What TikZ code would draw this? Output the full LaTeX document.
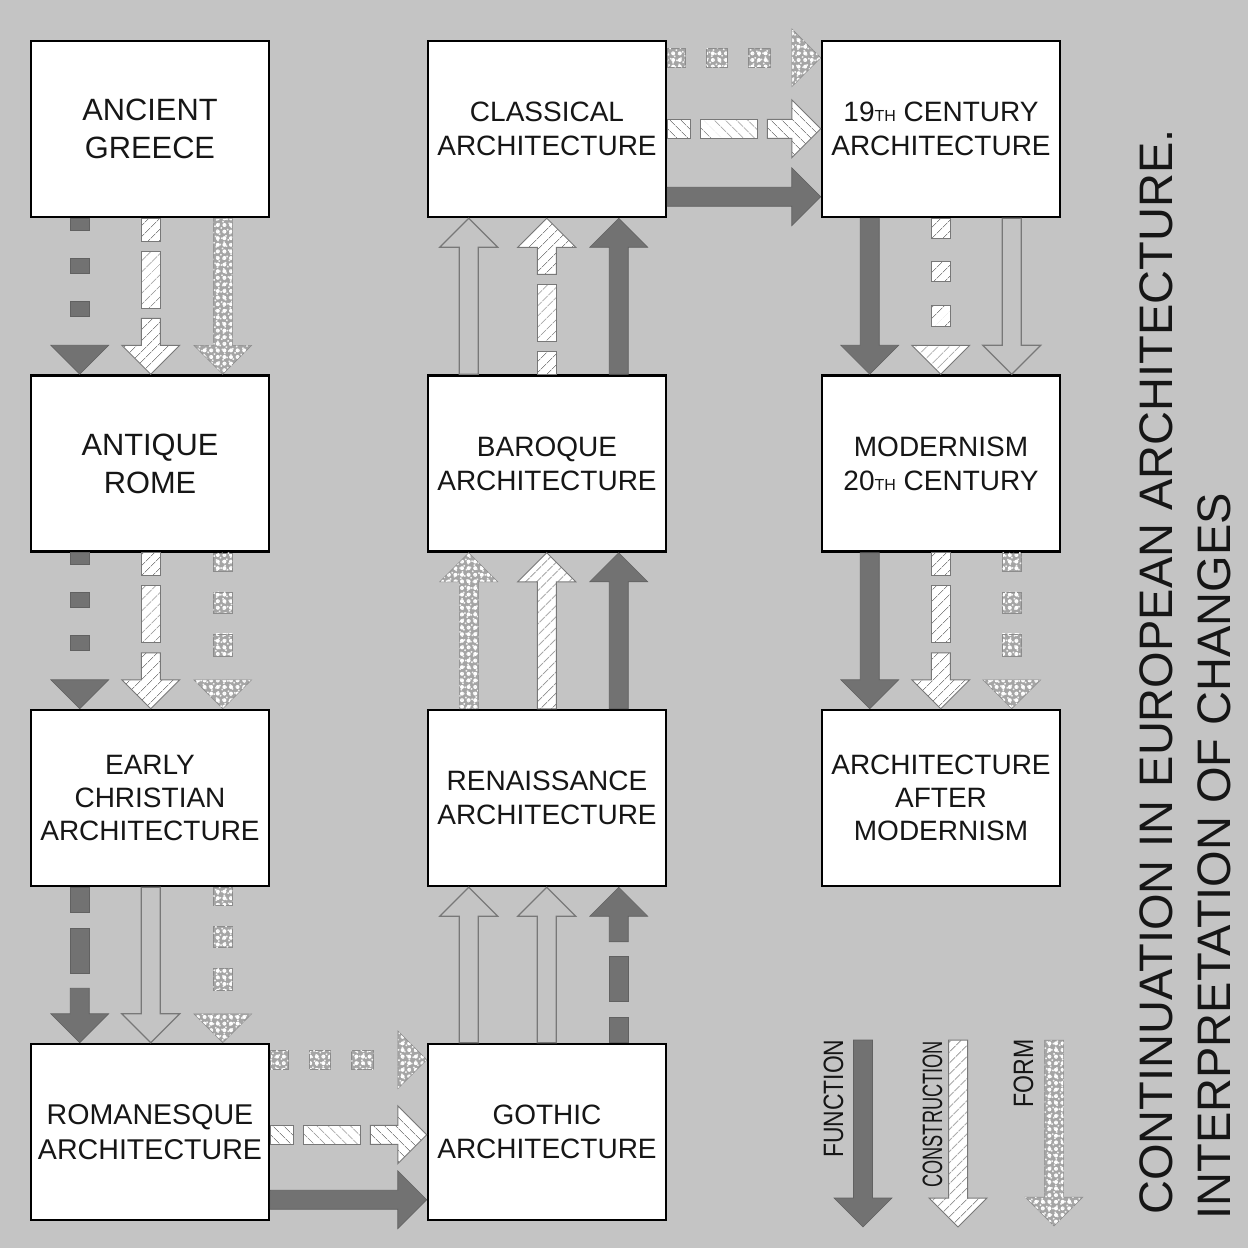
\documentclass[tikz,border=0pt]{standalone}
\usepackage{fontspec}
\setmainfont{Liberation Sans}
\usetikzlibrary{calc,patterns.meta}
\definecolor{bgc}{RGB}{196,196,196}
\definecolor{fcol}{RGB}{114,114,114}
\definecolor{ocol}{RGB}{120,120,120}
\definecolor{hcol}{RGB}{135,135,135}
\definecolor{stb}{RGB}{165,165,165}
\definecolor{txt}{RGB}{22,22,22}
\newcommand\arsw{9.5}
\newcommand\arhw{29}
\newcommand\arhk{29}
\newcommand\arhatang{-45}
\newcommand\getframe[2]{%
  \path let \p1=(#1), \p2=(#2) in \pgfextra{%
    \pgfmathsetmacro\artmpL{veclen(\x2-\x1,\y2-\y1)*2}%
    \pgfmathsetmacro\artmpA{atan2(\y2-\y1,\x2-\x1)}%
    \pgfmathsetmacro\artmpH{abs(\artmpA)>45 ? 45 : -45}%
    \global\let\arL\artmpL
    \global\let\arA\artmpA
    \global\let\arhatang\artmpH
    \xdef\arX{\x1}\xdef\arY{\y1}};}
\newcommand\arpiece[3]{\path[#1] (#2,-\arsw) rectangle (#3,\arsw);}
\newcommand\arhead[1]{\path[#1] ({\arL-\arhk},-\arhw) -- (\arL,0) -- ({\arL-\arhk},\arhw) -- cycle;}
\newcommand\artail[2]{\path[#1] (#2,-\arsw) -- ({\arL-\arhk},-\arsw) -- ({\arL-\arhk},-\arhw) -- (\arL,0) -- ({\arL-\arhk},\arhw) -- ({\arL-\arhk},\arsw) -- (#2,\arsw) -- cycle;}
\newcommand\arkindsolidF{\artail{fun}{0}}
\newcommand\arkindsolidC{\artail{hat}{0}}
\newcommand\arkindsolidS{\artail{sti}{0}}
\newcommand\arkindempty{\artail{emp}{0}}
\newcommand\arkinddotF{\arpiece{fun}{0}{12}\arpiece{fun}{40}{55}\arpiece{fun}{83}{98}\arhead{fun}}
\newcommand\arkinddotC{\arpiece{hat}{0}{20}\arpiece{hat}{43}{63}\arpiece{hat}{87}{108}\arhead{hat}}
\newcommand\arkinddotS{\arpiece{sti}{0}{18}\arpiece{sti}{39}{60}\arpiece{sti}{81}{103}\arhead{sti}}
\newcommand\arkindsegC{\arpiece{hat}{0}{23}\arpiece{hat}{33}{90}\artail{hat}{100}}
\newcommand\arkinddashF{\arpiece{fun}{0}{25}\arpiece{fun}{41}{86}\artail{fun}{101}}
\newcommand\arr[3]{%
  \getframe{#2}{#3}%
  \begin{scope}[shift={(\arX,\arY)},rotate=\arA]
    \csname arkind#1\endcsname
  \end{scope}}
\newcommand\thsub{{\fontsize{8}{8}\selectfont TH}}
\tikzset{
  box/.style={draw=black, fill=white, line width=1.25pt, minimum width=119pt,
    minimum height=88pt, inner sep=0pt, align=center, text=txt,
    font=\fontsize{14}{17}\selectfont},
  big/.style={font=\fontsize{15.4}{19}\selectfont},
  fun/.style={fill=fcol, draw=fcol!85!black, line width=0.3pt},
  hat/.style={preaction={fill=white}, pattern={Lines[angle=\arhatang,distance=4pt,line width=0.45pt]},
    pattern color=hcol, draw=ocol, line width=0.5pt},
  sti/.style={preaction={fill=stb}, pattern={Dots[radius=1pt,distance=3.3pt]},
    pattern color=white, draw=stb!85!black, line width=0.25pt,
    postaction={pattern={Dots[radius=0.55pt,distance=2.3pt,angle=30,xshift=1.1pt,yshift=0.6pt]}, pattern color=white!85!stb}},
  emp/.style={draw=ocol, line width=0.6pt},
  ttl/.style={rotate=90, anchor=base west, inner sep=0pt, text=txt, font=\fontsize{23.5}{23.5}\selectfont},
  lgd/.style={rotate=90, anchor=base west, inner sep=0pt, text=txt, font=\fontsize{14}{14}\selectfont}
}
\begin{document}
\begin{tikzpicture}[x=0.5pt,y=-0.5pt]
\fill[bgc] (0,0) rectangle (1248,1248);
\useasboundingbox (0,0) rectangle (1248,1248);
% boxes
\node[box,big] (greece) at (150,129) {ANCIENT\\GREECE};
\node[box,big] (rome) at (150,463.5) {ANTIQUE\\ROME};
\node[box,font=\fontsize{14}{16.5}\selectfont] (christian) at (150,798) {EARLY\\CHRISTIAN\\ARCHITECTURE};
\node[box,font=\fontsize{14.3}{17.5}\selectfont] (romanesque) at (150,1132) {ROMANESQUE\\ARCHITECTURE};
\node[box] (classical) at (547,129) {CLASSICAL\\ARCHITECTURE};
\node[box] (baroque) at (547,463.5) {BAROQUE\\ARCHITECTURE};
\node[box] (renaissance) at (547,798) {RENAISSANCE\\ARCHITECTURE};
\node[box] (gothic) at (547,1132) {GOTHIC\\ARCHITECTURE};
\node[box] (c19) at (941,129) {19\thsub{} CENTURY\\ARCHITECTURE};
\node[box] (modern) at (941,463.5) {MODERNISM\\20\thsub{} CENTURY};
\node[box,font=\fontsize{14}{16.5}\selectfont] (after) at (941,798) {ARCHITECTURE\\AFTER\\MODERNISM};
% column 1 (down)
\arr{dotF}{$(greece.south west)+(50,0)$}{$(rome.north west)+(50,0)$}
\arr{segC}{$(greece.south west)+(121,0)$}{$(rome.north west)+(121,0)$}
\arr{solidS}{$(greece.south west)+(193,0)$}{$(rome.north west)+(193,0)$}
\arr{dotF}{$(rome.south west)+(50,0)$}{$(christian.north west)+(50,0)$}
\arr{segC}{$(rome.south west)+(121,0)$}{$(christian.north west)+(121,0)$}
\arr{dotS}{$(rome.south west)+(193,0)$}{$(christian.north west)+(193,0)$}
\arr{dashF}{$(christian.south west)+(50,0)$}{$(romanesque.north west)+(50,0)$}
\arr{empty}{$(christian.south west)+(121,0)$}{$(romanesque.north west)+(121,0)$}
\arr{dotS}{$(christian.south west)+(193,0)$}{$(romanesque.north west)+(193,0)$}
% Romanesque -> Gothic
\arr{dotS}{$(romanesque.north east)+(0,17)$}{$(gothic.north west)+(0,17)$}
\arr{segC}{$(romanesque.north east)+(0,92)$}{$(gothic.north west)+(0,92)$}
\arr{solidF}{$(romanesque.north east)+(0,157)$}{$(gothic.north west)+(0,157)$}
% column 2 (up)
\arr{empty}{$(gothic.north west)+(42,0)$}{$(renaissance.south west)+(42,0)$}
\arr{empty}{$(gothic.north west)+(120,0)$}{$(renaissance.south west)+(120,0)$}
\arr{dashF}{$(gothic.north west)+(192,0)$}{$(renaissance.south west)+(192,0)$}
\arr{solidS}{$(renaissance.north west)+(42,0)$}{$(baroque.south west)+(42,0)$}
\arr{solidC}{$(renaissance.north west)+(120,0)$}{$(baroque.south west)+(120,0)$}
\arr{solidF}{$(renaissance.north west)+(192,0)$}{$(baroque.south west)+(192,0)$}
\arr{empty}{$(baroque.north west)+(42,0)$}{$(classical.south west)+(42,0)$}
\arr{segC}{$(baroque.north west)+(120,0)$}{$(classical.south west)+(120,0)$}
\arr{solidF}{$(baroque.north west)+(192,0)$}{$(classical.south west)+(192,0)$}
% Classical -> 19th
\arr{dotS}{$(classical.north east)+(0,18)$}{$(c19.north west)+(0,18)$}
\arr{segC}{$(classical.north east)+(0,89)$}{$(c19.north west)+(0,89)$}
\arr{solidF}{$(classical.north east)+(0,157)$}{$(c19.north west)+(0,157)$}
% column 3 (down)
\arr{solidF}{$(c19.south west)+(49,0)$}{$(modern.north west)+(49,0)$}
\arr{dotC}{$(c19.south west)+(120,0)$}{$(modern.north west)+(120,0)$}
\arr{empty}{$(c19.south west)+(191,0)$}{$(modern.north west)+(191,0)$}
\arr{solidF}{$(modern.south west)+(49,0)$}{$(after.north west)+(49,0)$}
\arr{segC}{$(modern.south west)+(120,0)$}{$(after.north west)+(120,0)$}
\arr{dotS}{$(modern.south west)+(191,0)$}{$(after.north west)+(191,0)$}
% legend
\coordinate (lgF1) at (863,1040); \coordinate (lgF2) at (863,1227);
\coordinate (lgC1) at (958,1040); \coordinate (lgC2) at (958,1227);
\coordinate (lgS1) at (1054,1040); \coordinate (lgS2) at (1054,1226);
\arr{solidF}{lgF1}{lgF2}
\arr{solidC}{lgC1}{lgC2}
\arr{solidS}{lgS1}{lgS2}
\node[lgd] (lfun) at (843,1158) {\scalebox{0.816}[1]{FUNCTION}};
\node[lgd] (lcon) at (942,1188) {\scalebox{0.65}[1]{CONSTRUCTION}};
\node[lgd] (lfor) at (1033,1108) {\scalebox{0.825}[1]{FORM}};
% title
\node[ttl] (title1) at (1172,1215) {CONTINUATION IN EUROPEAN ARCHITECTURE.};
\node[ttl] (title2) at (1230,1220) {INTERPRETATION OF CHANGES};
\end{tikzpicture}
\end{document}
